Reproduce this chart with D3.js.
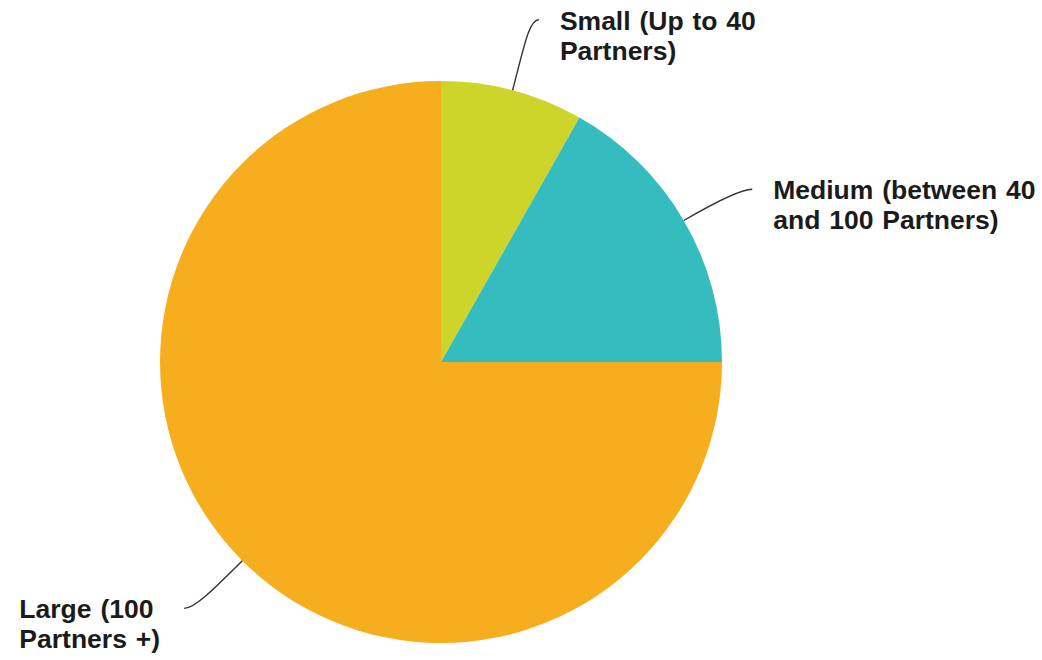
<!DOCTYPE html>
<html>
<head>
<meta charset="utf-8">
<script src="https://cdn.jsdelivr.net/npm/d3@7/dist/d3.min.js"></script>
<style>
  html, body { margin: 0; padding: 0; background: #ffffff; }
  svg { display: block; }
  text { font-family: "Liberation Sans", Arial, sans-serif; font-weight: bold; }
</style>
</head>
<body>
<svg id="chart" width="1042" height="660"></svg>
<script>
// Firm size breakdown (share of firms, %)
const categories = ["Small", "Medium", "Large"];
const labelLines = [
  ["Small (Up to 40", "Partners)"],
  ["Medium (between 40", "and 100 Partners)"],
  ["Large (100", "Partners +)"]
];
const shares = [8.2, 16.8, 75];
const colors = ["#CDD52A", "#34BCBE", "#F6AE1F"];

const width = 1042, height = 660;
const cx = 441, cy = 362, radius = 281;
const labelRadius = 356;

const svg = d3.select("#chart");
const g = svg.append("g").attr("transform", `translate(${cx},${cy})`);

const data = categories.map((c, i) => ({ name: c, value: shares[i], lines: labelLines[i], color: colors[i] }));

const pie = d3.pie().value(d => d.value).sort(null);
const arcs = pie(data);
const arc = d3.arc().innerRadius(0).outerRadius(radius);

g.selectAll("path.slice")
  .data(arcs)
  .join("path")
  .attr("class", "slice")
  .attr("d", arc)
  .attr("fill", d => d.data.color);

// polar helper: angle measured clockwise from 12 o'clock
const polar = (r, a) => [r * Math.sin(a), -r * Math.cos(a)];

const fontSize = 26.5, lineGap = 30;

arcs.forEach(a => {
  const mid = (a.startAngle + a.endAngle) / 2;
  const start = polar(radius, mid);
  const c1 = polar(radius + 45, mid);
  const end = polar(labelRadius, mid + 1.2 * Math.PI / 180);
  const rightSide = Math.sin(mid) >= 0;
  const dir = rightSide ? 1 : -1;
  const c2 = [end[0] - dir * 10, end[1]];

  const path = d3.path();
  path.moveTo(start[0], start[1]);
  path.bezierCurveTo(c1[0], c1[1], c2[0], c2[1], end[0], end[1]);
  g.append("path")
    .attr("d", path.toString())
    .attr("fill", "none")
    .attr("stroke", "#333333")
    .attr("stroke-width", 1.4);

  const label = g.append("text")
    .attr("font-size", fontSize)
    .attr("word-spacing", 1.5)
    .attr("fill", "#1b1b1b");
  a.data.lines.forEach((line, i) => {
    label.append("tspan")
      .attr("x", 0)
      .attr("y", i * lineGap)
      .text(line);
  });
  const w = label.node().getBBox().width;
  const lx = rightSide ? end[0] + 21 : end[0] - 24 - w;
  label.attr("transform", `translate(${lx},${end[1] + 10})`);
});
</script>
</body>
</html>
